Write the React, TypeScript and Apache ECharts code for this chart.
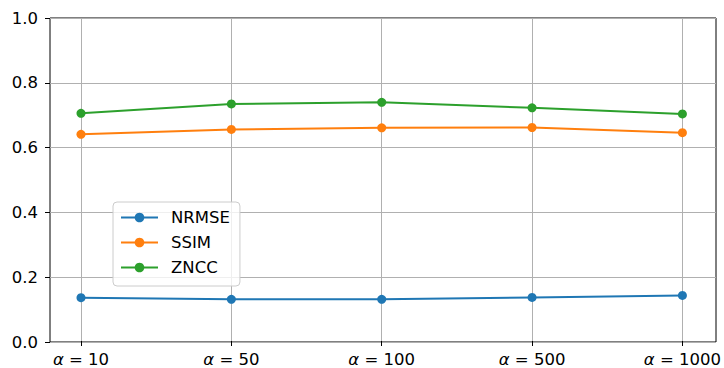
import React, { useEffect, useRef } from "react";
import * as echarts from "echarts";

const categories = ["10", "50", "100", "500", "1000"];
const nrmse = [0.134, 0.129, 0.129, 0.135, 0.141];
const ssim = [0.640, 0.655, 0.660, 0.661, 0.645];
const zncc = [0.705, 0.734, 0.739, 0.722, 0.703];
const yTicks = [0, 0.2, 0.4, 0.6, 0.8, 1.0];

const FONT = "DejaVu Sans";

export default function App() {
  const ref = useRef<HTMLDivElement>(null);
  useEffect(() => {
    document.body.style.margin = "0";
    const chart = echarts.init(ref.current!, null, { renderer: "svg" });
    const mk = (name: string, data: number[], color: string) => ({
      name,
      type: "line",
      xAxisIndex: 1,
      yAxisIndex: 1,
      data,
      symbol: "circle",
      symbolSize: 9,
      lineStyle: { width: 2, color },
      itemStyle: { color },
      emphasis: { disabled: true },
    });
    chart.setOption({
      animation: false,
      backgroundColor: "#fff",
      grid: [
        { left: 50, right: 8, top: 18, bottom: 26, show: true, borderColor: "#000", borderWidth: 1, backgroundColor: "transparent" },
        { left: 81, right: 39, top: 18, bottom: 26 },
      ],
      xAxis: [
        { type: "value", gridIndex: 0, min: 0, max: 1, show: false },
        {
          type: "category",
          gridIndex: 1,
          data: categories,
          boundaryGap: false,
          axisLine: { show: false },
          axisTick: { show: true, length: 5, alignWithLabel: true, lineStyle: { color: "#000", width: 1 }, inside: false },
          axisLabel: {
            margin: 10,
            color: "#000",
            fontFamily: FONT,
            fontSize: 16.5,
            formatter: (v: string) => "{i|α} = " + v,
            rich: { i: { fontStyle: "italic", fontFamily: FONT, fontSize: 16.5, color: "#000" } },
          },
          splitLine: { show: true, lineStyle: { color: "#b0b0b0", width: 1 } },
        },
      ],
      yAxis: [
        {
          type: "value",
          gridIndex: 0,
          min: 0,
          max: 1,
          interval: 0.2,
          axisLine: { show: false },
          axisTick: { show: true, length: 5, lineStyle: { color: "#000", width: 1 } },
          axisLabel: {
            margin: 12,
            color: "#000",
            fontFamily: FONT,
            fontSize: 16.5,
            formatter: (v: number) => {
              const t = yTicks.find((x) => Math.abs(x - v) < 1e-9);
              return (t ?? v).toFixed(1);
            },
          },
          splitLine: { show: true, lineStyle: { color: "#b0b0b0", width: 1 } },
        },
        { type: "value", gridIndex: 1, min: 0, max: 1, show: false },
      ],
      legend: {
        orient: "vertical",
        left: 113,
        top: 202,
        width: 127,
        itemWidth: 37,
        itemHeight: 12,
        itemGap: 8,
        padding: [7, 10, 10, 7],
        backgroundColor: "rgba(255,255,255,0.8)",
        borderColor: "#cccccc",
        borderWidth: 1,
        borderRadius: 4,
        textStyle: { fontFamily: FONT, fontSize: 16.5, lineHeight: 14, color: "#000", padding: [0, 0, 0, 8] },
        data: ["NRMSE", "SSIM", "ZNCC"],
        selectedMode: false,
      },
      series: [mk("NRMSE", nrmse, "#1f77b4"), mk("SSIM", ssim, "#ff7f0e"), mk("ZNCC", zncc, "#2ca02c")],
    });
    return () => chart.dispose();
  }, []);
  return <div ref={ref} style={{ width: 724, height: 368 }} />;
}
